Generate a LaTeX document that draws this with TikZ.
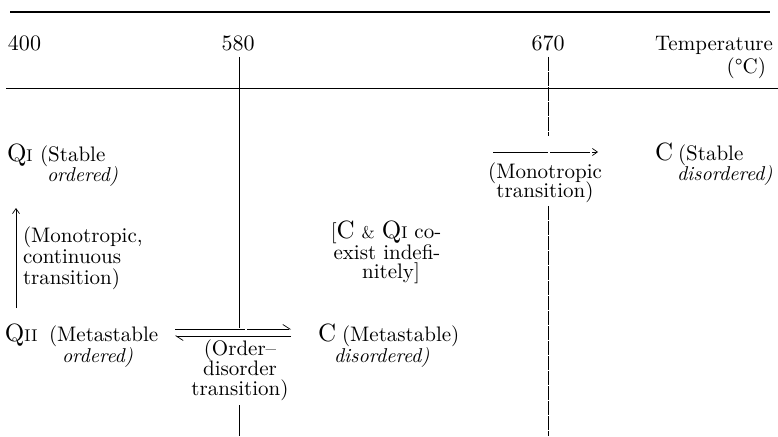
\documentclass[tikz,border=0pt]{standalone}
\usepackage{fontspec}
\setmainfont{lmroman10-regular}[Extension=.otf, ItalicFont=lmroman10-italic, BoldFont=lmroman10-bold]
\usetikzlibrary{arrows.meta}
\newcommand{\txtf}{\fontsize{21}{20}\selectfont}
\newcommand{\itf}{\fontsize{20}{20}\selectfont\itshape}
\newcommand{\bigletf}{\fontsize{25}{24}\selectfont}
\newcommand{\subletf}{\fontsize{17}{15}\selectfont}
\newcommand{\ampf}{\fontsize{17}{15}\selectfont}
\newcommand{\numf}{\fontsize{22}{21}\selectfont}
\newcommand{\QI}{{\bigletf Q}{\subletf I}}
\newcommand{\QII}{{\bigletf Q}{\subletf I\kern0.8pt I}}
\begin{document}
\begin{tikzpicture}[x=1pt,y=-1pt,
  lbl/.style={inner sep=0pt, outer sep=0pt, font=\txtf},
  itlbl/.style={inner sep=0pt, outer sep=0pt, font=\itf},
  numlbl/.style={inner sep=0pt, outer sep=0pt, font=\numf},
  thinline/.style={line width=0.7pt},
  brokenline/.style={line width=0.7pt, dash pattern=on 14pt off 1pt},
  tipstyle/.style={-{Straight Barb[length=5pt,width=7pt]}},
  harp/.style={-{Straight Barb[harpoon,length=7pt,width=9pt]}}]
\useasboundingbox (0,0) rectangle (778,436);

% rules
\coordinate (thickL) at (10,12);
\coordinate (thickR) at (770,12);
\draw[line width=2.4pt] (thickL) -- (thickR);
\coordinate (thinL) at (6,88);
\coordinate (thinR) at (778,88);
\draw[thinline] (thinL) -- (thinR);

% axis labels
\node[numlbl, anchor=base west] (t400) at (8,50) {400};
\node[numlbl, anchor=base] (t580) at (238,50) {580};
\node[numlbl, anchor=base] (t670) at (548,50) {670};
\node[lbl, anchor=base east] (temp) at (773,50) {Temperature};
\node[lbl, anchor=base east] (degc) at (766,73) {(°C)};

% vertical lines
\coordinate (v580a) at (239,57);
\coordinate (v580b) at (239,328);
\coordinate (v580c) at (239,405);
\coordinate (v580d) at (239,436);
\draw[thinline] (v580a) -- (v580b);
\draw[thinline] (v580c) -- (v580d);
\coordinate (v670a) at (548,57);
\coordinate (v670b) at (548,136);
\coordinate (v670c) at (548,206);
\coordinate (v670d) at (548,436);
\draw[brokenline] (v670a) -- (v670b);
\draw[brokenline] (v670c) -- (v670d);

% Q_I
\node[lbl, anchor=base west] (qi) at (7,161) {\QI};
\node[lbl, anchor=base west] (qis1) at (40,161) {(Stable};
\node[itlbl, anchor=base west] (qis2) at (47,181) {ordered)};

% C stable
\node[lbl, anchor=base west] (cs) at (655,160) {{\bigletf C}};
\node[lbl, anchor=base west] (css1) at (678,160) {(Stable};
\node[itlbl, anchor=base west] (css2) at (677,180) {disordered)};

% monotropic transition arrow
\coordinate (mA) at (493,152);
\coordinate (mB) at (598,152);
\draw[thinline, tipstyle, dash pattern=on 55pt off 2pt on 40pt off 2pt] (mA) -- (mB);
\node[lbl, anchor=base] (mt1) at (545,178) {(Monotropic};
\node[lbl, anchor=base] (mt2) at (545,197) {transition)};

% up arrow
\coordinate (uA) at (16,308);
\coordinate (uB) at (16,208);
\draw[thinline, tipstyle] (uA) -- (uB);
\node[lbl, anchor=base west] (mc1) at (23,242) {(Monotropic,};
\node[lbl, anchor=base west] (mc2) at (23,263) {continuous};
\node[lbl, anchor=base west] (mc3) at (23,284) {transition)};

% coexist
\node[lbl, anchor=base] (co1) at (386,238) {[{\bigletf C} {\ampf\&} \QI\ co-};
\node[lbl, anchor=base] (co2) at (387,259) {exist indefi-};
\node[lbl, anchor=base] (co3) at (391,278) {nitely]};

% Q_II
\node[lbl, anchor=base west] (qii) at (5,341) {\QII};
\node[lbl, anchor=base west] (qiis1) at (49,341) {(Metastable};
\node[itlbl, anchor=base west] (qiis2) at (62,362) {ordered)};

% order-disorder arrows
\coordinate (oA) at (175,329);
\coordinate (oB) at (291,329);
\coordinate (oC) at (291,336);
\coordinate (oD) at (175,336);
\draw[thinline, harp, dash pattern=on 70pt off 2pt on 50pt off 2pt] (oA) -- (oB);
\draw[thinline, harp] (oC) -- (oD);
\node[lbl, anchor=base] (od1) at (240,355) {(Order--};
\node[lbl, anchor=base] (od2) at (240,375) {disorder};
\node[lbl, anchor=base] (od3) at (240,395) {transition)};

% C metastable
\node[lbl, anchor=base west] (cm) at (318,341) {{\bigletf C}};
\node[lbl, anchor=base west] (cms1) at (342,341) {(Metastable)};
\node[itlbl, anchor=base west] (cms2) at (334,362) {disordered)};
\end{tikzpicture}
\end{document}
